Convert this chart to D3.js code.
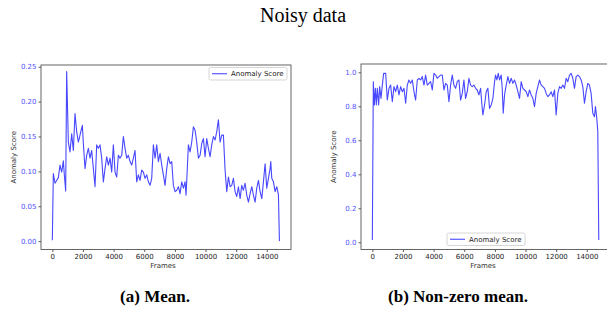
<!DOCTYPE html>
<html>
<head>
<meta charset="utf-8">
<script src="https://cdn.jsdelivr.net/npm/d3@7"></script>
<style>
  body { margin: 0; background: #fff; }
  svg { display: block; }
</style>
</head>
<body>
<div class="canvas"></div>
<script>
// Data
const mean_frames = [0,65,174,283,392,501,610,718,784,871,936,1045,1154,1263,1372,1480,1589,1698,1807,1959,2025,2133,2242,2351,2460,2569,2678,2787,2895,3004,3113,3222,3331,3440,3549,3657,3766,3875,3984,4093,4202,4310,4419,4528,4637,4746,4855,4964,5072,5181,5290,5399,5508,5617,5726,5834,5943,6052,6161,6270,6379,6487,6596,6705,6814,6923,7032,7141,7249,7358,7467,7576,7685,7794,7902,8011,8120,8229,8338,8447,8556,8664,8730,8882,8991,9100,9209,9318,9426,9535,9644,9753,9862,9971,10079,10188,10297,10406,10515,10624,10733,10841,10950,11059,11168,11277,11386,11495,11603,11712,11821,11930,12039,12148,12257,12365,12474,12583,12692,12801,12910,13018,13127,13236,13345,13454,13563,13672,13780,13889,13998,14107,14216,14259,14325,14434,14543,14651,14760,14825];
const mean_scores = [0.0014,0.097,0.083,0.087,0.091,0.109,0.099,0.115,0.095,0.072,0.243,0.142,0.128,0.154,0.130,0.183,0.157,0.142,0.152,0.166,0.140,0.104,0.123,0.133,0.119,0.130,0.104,0.078,0.138,0.133,0.138,0.119,0.085,0.104,0.121,0.109,0.119,0.099,0.138,0.099,0.092,0.123,0.119,0.123,0.150,0.133,0.119,0.123,0.114,0.109,0.119,0.130,0.085,0.095,0.087,0.102,0.099,0.090,0.095,0.085,0.080,0.090,0.138,0.119,0.138,0.114,0.126,0.109,0.095,0.080,0.104,0.121,0.111,0.114,0.080,0.071,0.073,0.078,0.068,0.085,0.076,0.085,0.066,0.138,0.128,0.142,0.164,0.159,0.142,0.119,0.123,0.140,0.147,0.121,0.147,0.133,0.121,0.138,0.150,0.145,0.157,0.174,0.142,0.152,0.152,0.102,0.071,0.092,0.078,0.080,0.090,0.071,0.064,0.078,0.061,0.080,0.073,0.083,0.066,0.056,0.068,0.078,0.066,0.056,0.076,0.087,0.071,0.061,0.085,0.111,0.076,0.090,0.104,0.114,0.090,0.085,0.071,0.078,0.066,0.000];

const nz_frames = [0,65,130,196,261,326,413,478,565,652,739,870,978,1087,1196,1304,1413,1522,1630,1739,1848,1957,2065,2174,2283,2391,2500,2609,2718,2826,2935,3044,3152,3261,3370,3478,3587,3696,3805,3913,4022,4131,4239,4348,4457,4565,4674,4783,4892,5000,5109,5218,5326,5435,5544,5652,5761,5870,5979,6087,6196,6305,6413,6522,6631,6739,6848,6957,7066,7174,7218,7326,7435,7544,7652,7761,7870,7979,8044,8131,8218,8305,8413,8479,8544,8631,8739,8848,8957,9066,9174,9283,9392,9500,9609,9718,9826,9935,10044,10153,10261,10370,10479,10587,10696,10805,10914,11022,11131,11240,11348,11457,11566,11674,11783,11892,12000,12109,12218,12327,12435,12544,12653,12761,12870,12979,13087,13196,13305,13413,13522,13631,13740,13848,13957,14066,14174,14283,14392,14500,14566,14653,14718,14783];
const nz_scores = [0.014,0.945,0.808,0.906,0.808,0.906,0.808,0.916,0.847,0.925,0.994,0.994,0.837,0.906,0.925,0.827,0.916,0.886,0.925,0.867,0.916,0.886,0.906,0.818,0.925,0.955,0.935,0.955,0.886,0.837,0.955,0.965,0.955,0.975,0.925,0.984,0.925,0.935,0.945,0.896,0.994,0.984,0.965,0.975,0.984,0.984,0.896,0.935,0.925,0.827,0.925,0.984,0.925,0.906,0.945,0.955,0.837,0.876,0.955,0.847,0.886,0.965,0.925,0.916,0.925,0.906,0.896,0.867,0.906,0.788,0.749,0.808,0.886,0.906,0.788,0.808,0.847,0.945,0.984,0.955,0.994,0.955,0.984,0.906,0.759,0.867,0.925,0.975,0.935,0.965,0.935,0.955,0.925,0.886,0.847,0.945,0.906,0.896,0.886,0.857,0.896,0.867,0.847,0.798,0.876,0.916,0.955,0.925,0.916,0.906,0.876,0.857,0.867,0.886,0.857,0.896,0.749,0.876,0.916,0.906,0.925,0.906,0.965,0.945,0.984,0.994,0.965,0.906,0.975,0.984,0.975,0.955,0.916,0.818,0.886,0.935,0.925,0.876,0.759,0.739,0.798,0.729,0.651,0.014];

const x_ticks = [0,2000,4000,6000,8000,10000,12000,14000];
const mean_y_ticks = [0.00,0.05,0.10,0.15,0.20,0.25];
const nz_y_ticks = [0.0,0.2,0.4,0.6,0.8,1.0];

// Settings
const width = 607, height = 314;
const line_color = "rgba(0,0,255,0.72)";
const tick_label_color = "#5050ff";
const spine_color = "#555";
const tick_font = 7;

const svg = d3.select(".canvas").append("svg")
  .attr("width", width).attr("height", height);

// Title
svg.append("text")
  .attr("x", 303).attr("y", 22)
  .attr("text-anchor", "middle")
  .attr("font-family", "Liberation Serif, DejaVu Serif, serif")
  .attr("font-size", "20px")
  .text("Noisy data");

function draw_panel(opts){
  const g = svg.append("g");
  const x = d3.scaleLinear().domain([-740, 15580]).range([opts.left, opts.left + 250]);
  const y = d3.scaleLinear().domain(opts.ydomain).range([249.5, opts.top]);

  // clip for the right panel running off the page
  const xAxis = d3.axisBottom(x).tickValues(x_ticks).tickSize(2.5).tickPadding(2).tickFormat(d3.format("d"));
  const yAxis = d3.axisLeft(y).tickValues(opts.yticks).tickSize(2.5).tickPadding(2).tickFormat(d3.format(opts.yfmt));

  const gx = g.append("g").attr("transform", "translate(0,249.5)").call(xAxis);
  const gy = g.append("g").attr("transform", "translate(" + opts.left + ",0)").call(yAxis);
  [gx, gy].forEach(a => {
    a.select(".domain").remove();
    a.selectAll("line").attr("stroke", "#333").attr("stroke-width", 0.8);
    a.selectAll("text").attr("font-family", "DejaVu Sans, sans-serif").attr("font-size", tick_font + "px");
  });
  gx.selectAll("text").attr("fill", "#222");
  gy.selectAll("text").attr("fill", tick_label_color);

  // line
  const pts = opts.frames.map((f, i) => [f, opts.scores[i]]);
  g.append("path")
    .datum(pts)
    .attr("d", d3.line().x(d => x(d[0])).y(d => y(d[1])))
    .attr("fill", "none")
    .attr("stroke", line_color)
    .attr("stroke-width", 1.1)
    .attr("stroke-linejoin", "round");

  // frame
  g.append("rect")
    .attr("x", opts.left).attr("y", opts.top)
    .attr("width", 250).attr("height", 249.5 - opts.top)
    .attr("fill", "none").attr("stroke", spine_color).attr("stroke-width", 0.9);

  // axis labels
  g.append("text")
    .attr("x", opts.left + 122).attr("y", 268)
    .attr("text-anchor", "middle")
    .attr("font-family", "DejaVu Sans, sans-serif").attr("font-size", tick_font + "px")
    .attr("fill", "#333")
    .text("Frames");
  g.append("text")
    .attr("transform", "translate(" + (opts.left - 25) + "," + ((opts.top + 249.5) / 2) + ") rotate(-90)")
    .attr("text-anchor", "middle")
    .attr("font-family", "DejaVu Sans, sans-serif").attr("font-size", tick_font + "px")
    .attr("fill", "#333")
    .text("Anomaly Score");

  // legend
  const lg = g.append("g").attr("transform", "translate(" + opts.legend[0] + "," + opts.legend[1] + ")");
  lg.append("rect")
    .attr("width", 78).attr("height", 12.5).attr("rx", 1.5)
    .attr("fill", "white").attr("stroke", "#ccc").attr("stroke-width", 0.8);
  lg.append("line")
    .attr("x1", 3).attr("x2", 18).attr("y1", 6.25).attr("y2", 6.25)
    .attr("stroke", line_color).attr("stroke-width", 1.1);
  lg.append("text")
    .attr("x", 22).attr("y", 8.8)
    .attr("font-family", "DejaVu Sans, sans-serif").attr("font-size", tick_font + "px")
    .attr("fill", "#222")
    .text("Anomaly Score");

  // caption
  svg.append("text")
    .attr("x", opts.caption_x).attr("y", 302)
    .attr("text-anchor", "middle")
    .attr("font-family", "Liberation Serif, DejaVu Serif, serif")
    .attr("font-weight", "bold")
    .attr("font-size", "17px")
    .text(opts.caption);
}

draw_panel({
  left: 41, top: 65, ydomain: [-0.012, 0.2525], yticks: mean_y_ticks, yfmt: ".2f",
  frames: mean_frames, scores: mean_scores, legend: [209, 67.5],
  caption: "(a) Mean.", caption_x: 155
});

draw_panel({
  left: 361, top: 64, ydomain: [-0.0425, 1.049], yticks: nz_y_ticks, yfmt: ".1f",
  frames: nz_frames, scores: nz_scores, legend: [447, 233],
  caption: "(b) Non-zero mean.", caption_x: 458
});
</script>
</body>
</html>
